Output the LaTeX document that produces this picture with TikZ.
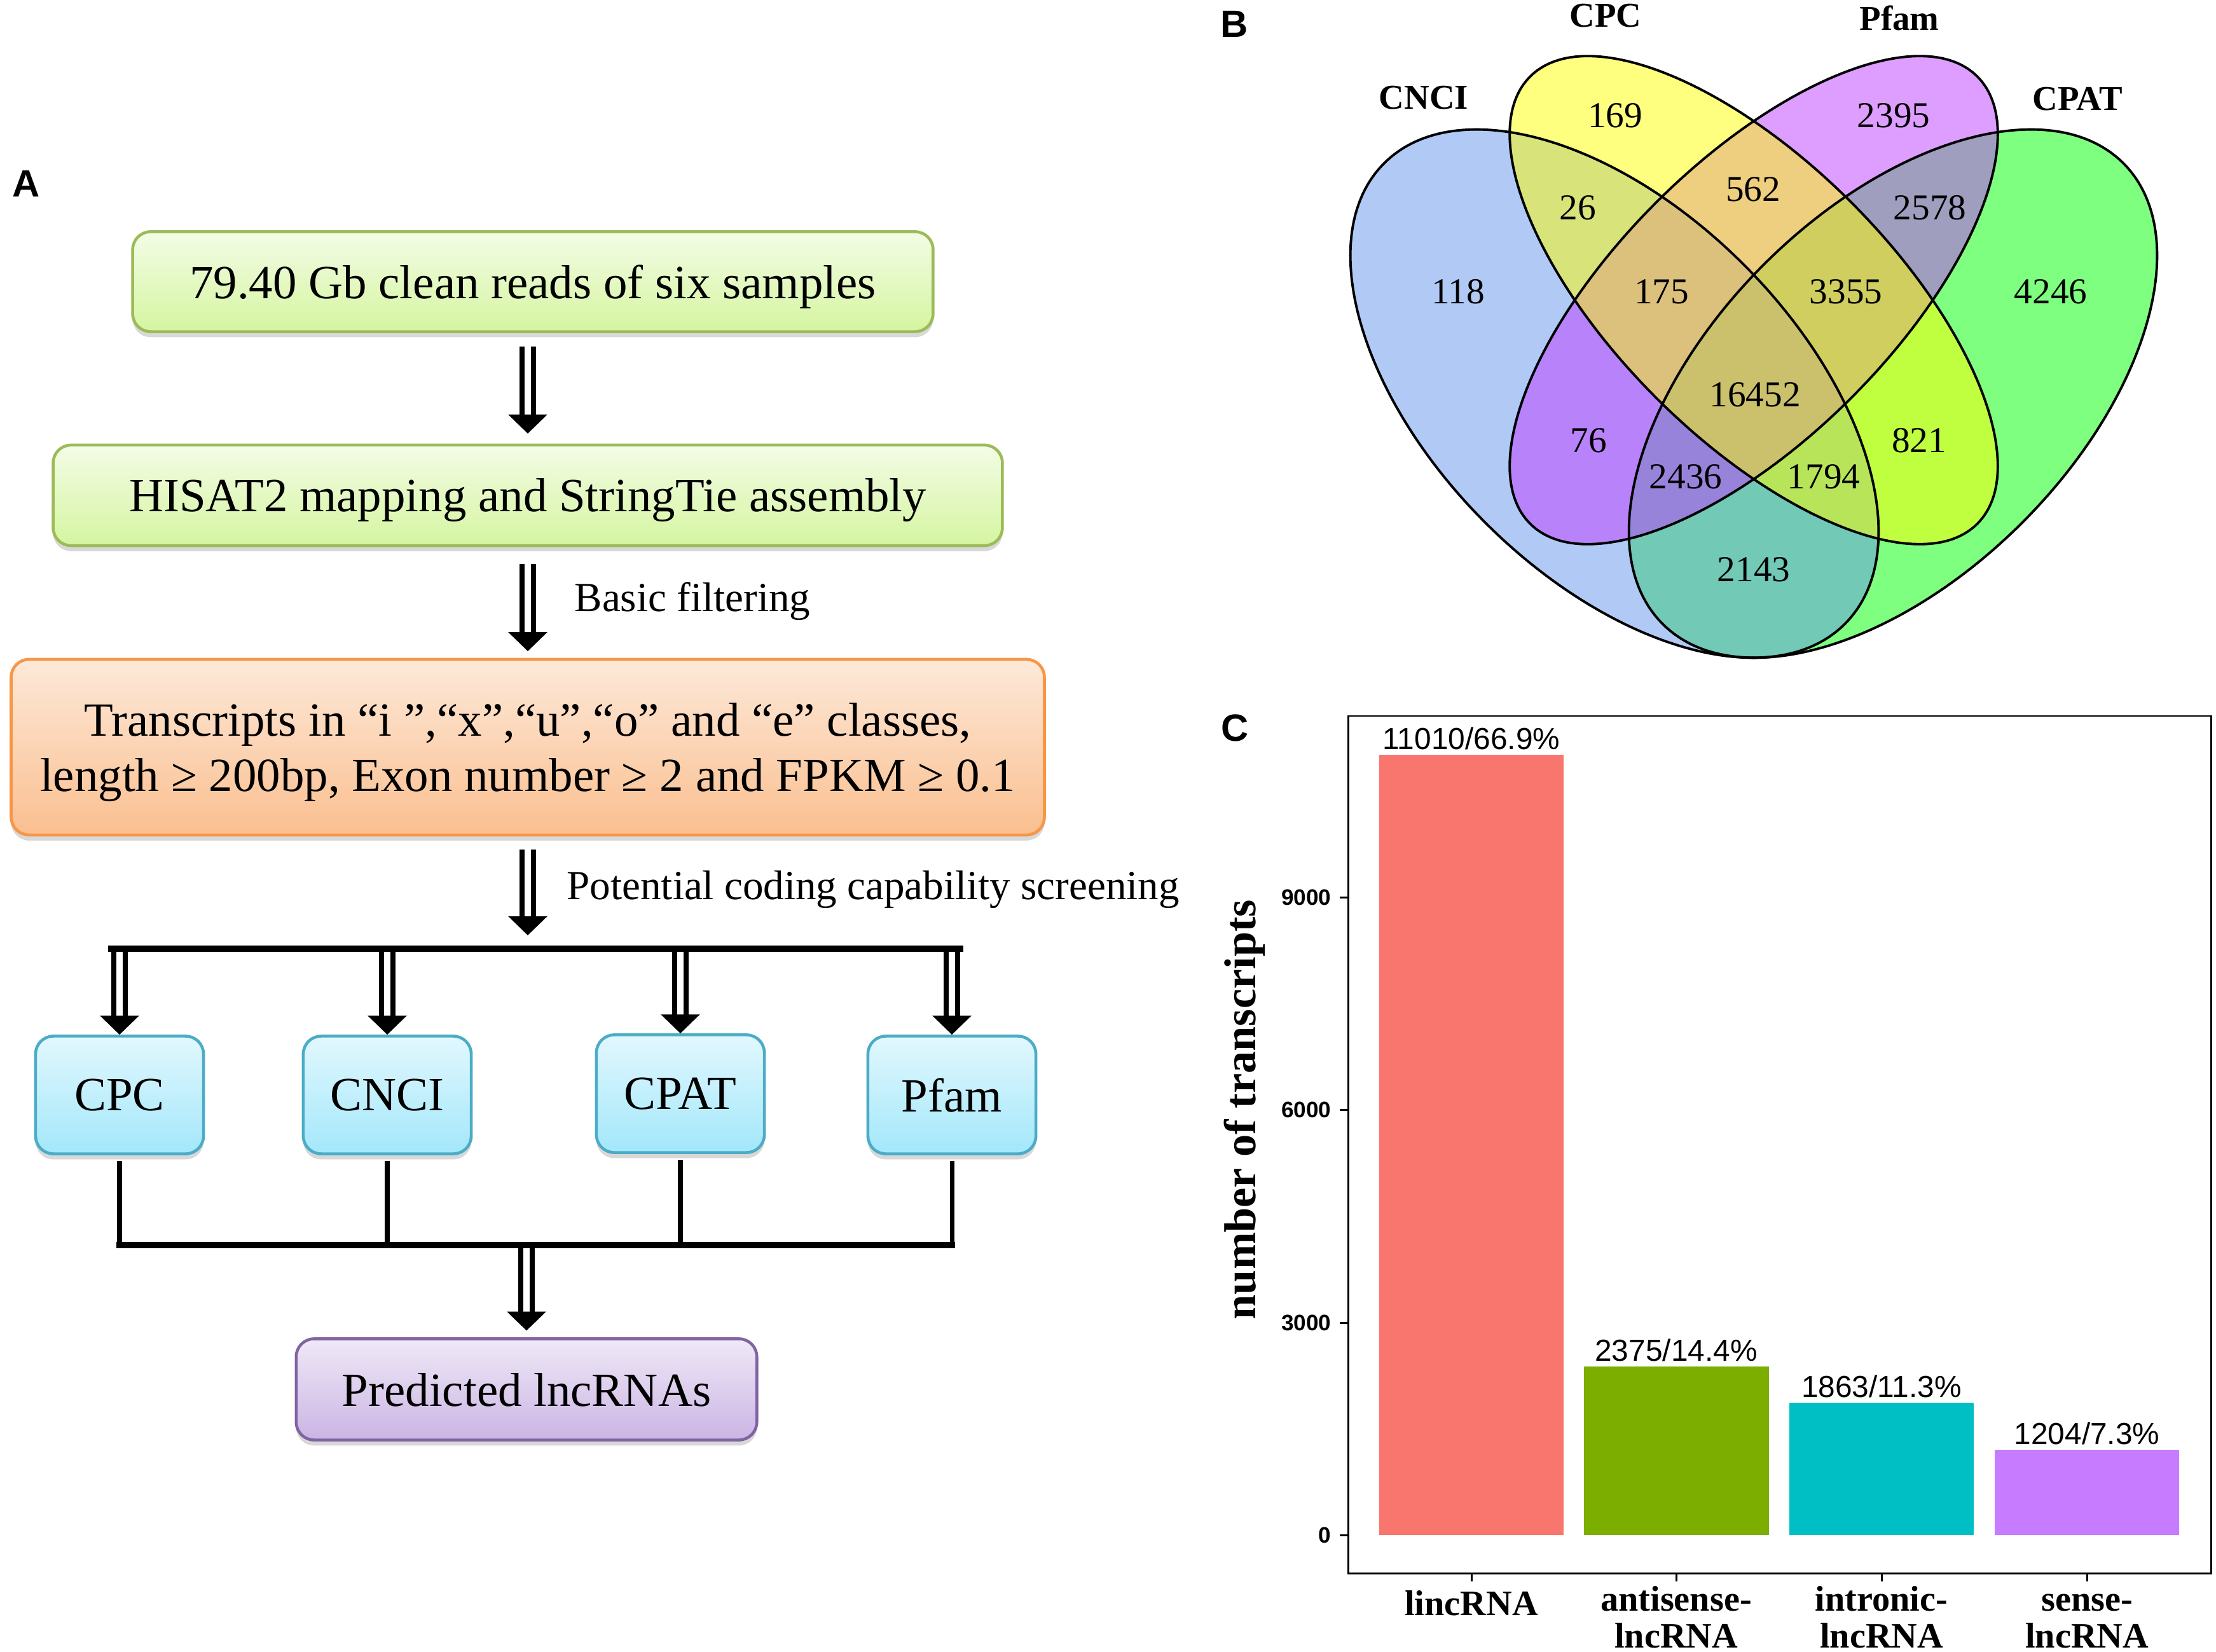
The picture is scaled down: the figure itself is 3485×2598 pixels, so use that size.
\documentclass[tikz,border=0pt]{standalone}
\usepackage{fontspec}
\setmainfont{Liberation Serif}
\setsansfont{Liberation Sans}
\usetikzlibrary{arrows.meta,shadows}

\definecolor{greenline}{HTML}{9BBB59}
\definecolor{greentop}{HTML}{F3FCE6}
\definecolor{greenbottom}{HTML}{D5F5A0}
\definecolor{orangeline}{HTML}{F79646}
\definecolor{orangetop}{HTML}{FDE9D9}
\definecolor{orangebottom}{HTML}{FABF8F}
\definecolor{blueline}{HTML}{4BACC6}
\definecolor{bluetop}{HTML}{E2F8FE}
\definecolor{bluebottom}{HTML}{A3E7FB}
\definecolor{purpleline}{HTML}{8064A2}
\definecolor{purpletop}{HTML}{EFE9F7}
\definecolor{purplebottom}{HTML}{CBB4E4}
\definecolor{cncifill}{RGB}{100,149,237}
\definecolor{cpcfill}{RGB}{255,255,0}
\definecolor{pfamfill}{RGB}{191,62,255}
\definecolor{cpatfill}{RGB}{0,255,0}
\definecolor{lincbar}{HTML}{F8766D}
\definecolor{antisensebar}{HTML}{7CAE00}
\definecolor{intronicbar}{HTML}{00BFC4}
\definecolor{sensebar}{HTML}{C77CFF}

\begin{document}
\begin{tikzpicture}[x=0.01cm, y=-0.01cm]
        \tikzstyle{box} = [draw, line width=1.3pt, rounded corners=8pt, align=center, inner sep=0pt,
            text depth=0pt, font=\fontsize{21.3}{25}\selectfont,
            drop shadow={shadow xshift=0pt, shadow yshift=-2.5pt, opacity=0.3}]
        \tikzstyle{green box} = [box, draw=greenline, top color=greentop, bottom color=greenbottom]
        \tikzstyle{orange box} = [box, draw=orangeline, top color=orangetop, bottom color=orangebottom]
        \tikzstyle{tool box} = [box, draw=blueline, top color=bluetop, bottom color=bluebottom,
            minimum width=2.64cm, minimum height=1.85cm]
        \tikzstyle{result box} = [box, draw=purpleline, top color=purpletop, bottom color=purplebottom]
        \tikzstyle{edge} = [line width=2.2pt, double=white, double distance=3pt,
            -{Triangle[width=17pt, length=8.5pt]}]
        \tikzstyle{link} = [line width=2pt]
        \tikzstyle{bus} = [line width=2.6pt, line cap=rect]
        \tikzstyle{note} = [anchor=west, inner sep=0pt, font=\fontsize{18.5}{22}\selectfont]
        \tikzstyle{panel} = [inner sep=0pt, font=\sffamily\bfseries\fontsize{17}{20}\selectfont]
        \tikzstyle{set label} = [inner sep=0pt, font=\bfseries\fontsize{15.6}{18}\selectfont]
        \tikzstyle{count} = [inner sep=0pt, font=\fontsize{16.3}{19}\selectfont]
        \tikzstyle{venn fill} = [fill opacity=0.5]
        \tikzstyle{venn line} = [line width=1.1pt]
        \tikzstyle{bar value} = [anchor=base, inner sep=0pt, font=\sffamily\fontsize{13.6}{16}\selectfont]
        \tikzstyle{tick value} = [anchor=east, inner sep=0pt, font=\sffamily\bfseries\fontsize{10}{12}\selectfont]
        \tikzstyle{category} = [anchor=south, align=center, inner sep=0pt, font=\bfseries\fontsize{16}{16.5}\selectfont]
        \tikzstyle{axis} = [line width=0.85pt]

        \fill[white] (0,0) rectangle (3485,2598);
        \useasboundingbox (0,0) rectangle (3485,2598);

        % A: pipeline
        \node[panel] (pa) at (41,289) {A};
        \node[green box, minimum width=12.58cm, minimum height=1.57cm] (b1) at (838,443) {79.40 Gb clean reads of six samples};
        \node[green box, minimum width=14.92cm, minimum height=1.58cm] (b2) at (830,779) {HISAT2 mapping and StringTie assembly};
        \node[orange box, minimum width=16.24cm, minimum height=2.76cm] (b3) at (830,1175)
            {Transcripts in “i ”,“x”,“u”,“o” and “e” classes,\\length ≥ 200bp, Exon number ≥ 2 and FPKM ≥ 0.1};
        \node[tool box] (cpc) at (188,1722) {CPC};
        \node[tool box] (cnci) at (609,1722) {CNCI};
        \node[tool box] (cpat) at (1070,1720) {CPAT};
        \node[tool box] (pfam) at (1497,1722) {Pfam};
        \node[result box, minimum width=7.24cm, minimum height=1.59cm] (b4) at (828,2185) {Predicted lncRNAs};

        \coordinate (split) at (828,1492);
        \coordinate (merge) at (828,1958);

        \draw[edge, shorten <=6pt, shorten >=4.5pt] (b1.south -| b2.north) -- (b2.north);
        \draw[edge, shorten <=7.5pt, shorten >=3pt] (b2.south) -- (b3.north);
        \node[note] (l1) at (903,946) {Basic filtering};
        \draw[edge, shorten <=6pt, shorten >=6pt] (b3.south) -- (b3.south |- split);
        \node[note] (l2) at (891,1399) {Potential coding capability screening};

        \draw[edge] (cpc.north |- split) -- (cpc.north);
        \draw[edge] (cnci.north |- split) -- (cnci.north);
        \draw[edge] (cpat.north |- split) -- (cpat.north);
        \draw[edge] (pfam.north |- split) -- (pfam.north);
        \draw[bus] ([xshift=-3.7pt]cpc.north |- split) -- ([xshift=3.7pt]pfam.north |- split);

        \draw[link, shorten <=2.5pt] (cpc.south) -- (cpc.south |- merge);
        \draw[link, shorten <=2.5pt] (cnci.south) -- (cnci.south |- merge);
        \draw[link, shorten <=2.5pt] (cpat.south) -- (cpat.south |- merge);
        \draw[link, shorten <=2.5pt] (pfam.south) -- (pfam.south |- merge);
        \draw[edge, shorten >=3pt] (merge) -- (b4.north);
        \draw[bus] (cpc.south |- merge) -- (pfam.south |- merge);

        % B: venn diagram
        \node[panel] (pb) at (1941,38) {B};
        \fill[cpatfill, venn fill, rotate around={45:(2977,619)}] (2977,619) ellipse [x radius=5.12cm, y radius=2.87cm];
        \fill[cncifill, venn fill, rotate around={-45:(2539,619)}] (2539,619) ellipse [x radius=5.12cm, y radius=2.87cm];
        \fill[pfamfill, venn fill, rotate around={45:(2758,472)}] (2758,472) ellipse [x radius=4.97cm, y radius=2.17cm];
        \fill[cpcfill, venn fill, rotate around={-45:(2758,472)}] (2758,472) ellipse [x radius=4.97cm, y radius=2.17cm];
        \draw[venn line, rotate around={45:(2977,619)}] (2977,619) ellipse [x radius=5.12cm, y radius=2.87cm];
        \draw[venn line, rotate around={-45:(2539,619)}] (2539,619) ellipse [x radius=5.12cm, y radius=2.87cm];
        \draw[venn line, rotate around={45:(2758,472)}] (2758,472) ellipse [x radius=4.97cm, y radius=2.17cm];
        \draw[venn line, rotate around={-45:(2758,472)}] (2758,472) ellipse [x radius=4.97cm, y radius=2.17cm];

        \node[set label] (scpc) at (2525,25) {CPC};
        \node[set label] (spfam) at (2987,28) {Pfam};
        \node[set label] (scnci) at (2239,154) {CNCI};
        \node[set label] (scpat) at (3267,156) {CPAT};

        \node[count] (n1) at (2540,182) {169};
        \node[count] (n2) at (2978,182) {2395};
        \node[count] (n3) at (2757,298) {562};
        \node[count] (n4) at (2481,327) {26};
        \node[count] (n5) at (3035,327) {2578};
        \node[count] (n6) at (2293,459) {118};
        \node[count] (n7) at (2613,459) {175};
        \node[count] (n8) at (2903,459) {3355};
        \node[count] (n9) at (3225,459) {4246};
        \node[count] (n10) at (2760,621) {16452};
        \node[count] (n11) at (2498,693) {76};
        \node[count] (n12) at (3018,693) {821};
        \node[count] (n13) at (2651,750) {2436};
        \node[count] (n14) at (2868,750) {1794};
        \node[count] (n15) at (2758,896) {2143};

        % C: bar chart
        \node[panel] (pc) at (1942,1145) {C};
        \fill[lincbar] (2169,1187) rectangle (2459,2414);
        \fill[antisensebar] (2491,2149) rectangle (2782,2414);
        \fill[intronicbar] (2814,2206) rectangle (3104,2414);
        \fill[sensebar] (3137,2280) rectangle (3427,2414);
        \draw[axis] (2120,1126) rectangle (3477,2474);

        \node[bar value] (v1) at (2314,1178) {11010/66.9\%};
        \node[bar value] (v2) at (2636,2140) {2375/14.4\%};
        \node[bar value] (v3) at (2959,2197) {1863/11.3\%};
        \node[bar value] (v4) at (3282,2271) {1204/7.3\%};

        \draw[axis] (2107,2414) -- (2120,2414);
        \draw[axis] (2107,2080) -- (2120,2080);
        \draw[axis] (2107,1745) -- (2120,1745);
        \draw[axis] (2107,1411) -- (2120,1411);
        \node[tick value] (t0) at (2094,2414) {0};
        \node[tick value] (t1) at (2094,2080) {3000};
        \node[tick value] (t2) at (2094,1745) {6000};
        \node[tick value] (t3) at (2094,1411) {9000};

        \draw[axis] (2314,2474) -- (2314,2487);
        \draw[axis] (2636,2474) -- (2636,2487);
        \draw[axis] (2959,2474) -- (2959,2487);
        \draw[axis] (3282,2474) -- (3282,2487);
        \node[category] (c1) at (2314,2542) {lincRNA};
        \node[category] (c2) at (2636,2593) {antisense-\\lncRNA};
        \node[category] (c3) at (2959,2593) {intronic-\\lncRNA};
        \node[category] (c4) at (3282,2593) {sense-\\lncRNA};

        \node[rotate=90, inner sep=0pt, font=\bfseries\fontsize{20}{24}\selectfont] (ytitle) at (1957,1745) {number of transcripts};
    \end{tikzpicture}
\end{document}
